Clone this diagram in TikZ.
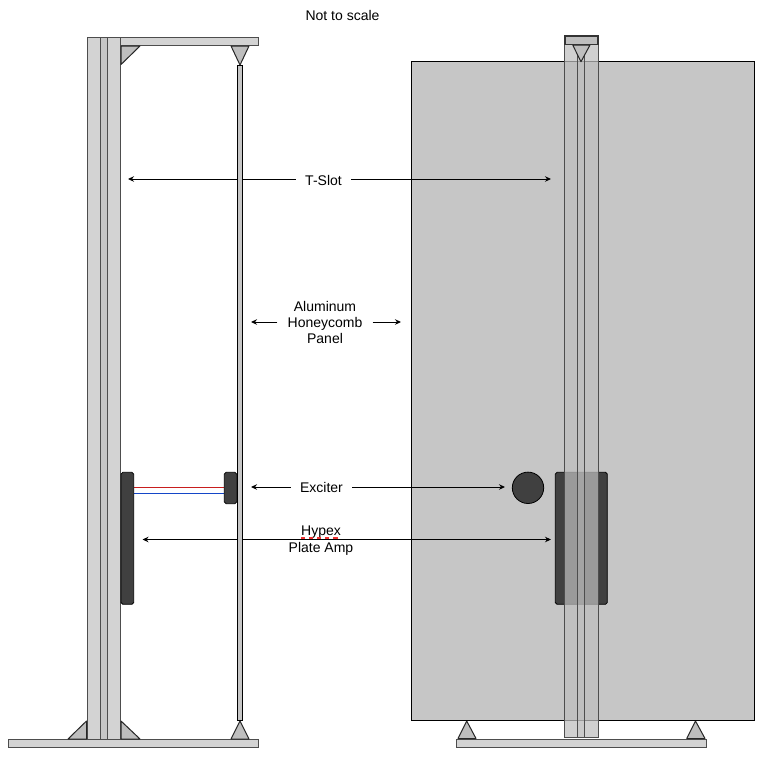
\documentclass[tikz,border=0pt]{standalone}
\usepackage{fontspec}
\setmainfont{Liberation Sans}
\usetikzlibrary{arrows.meta}
\definecolor{barfill}{HTML}{D3D3D3}
\definecolor{stripfill}{HTML}{C6C6C6}
\definecolor{wedgefill}{HTML}{BEBEBE}
\definecolor{barline}{HTML}{4D4D4D}
\definecolor{darkfill}{HTML}{404040}
\definecolor{slotfill}{HTML}{BEBEBE}
\definecolor{squiggle}{RGB}{240,50,50}
\definecolor{wirered}{RGB}{200,30,30}
\definecolor{wireblue}{RGB}{20,70,200}
\tikzset{
  every node/.style={font=\fontsize{14}{16}\selectfont, align=center, text=black},
  bar/.style={fill=barfill, draw=barline, line width=1pt},
  strip/.style={fill=stripfill, draw=barline, line width=0.8pt},
  wedge/.style={fill=wedgefill, draw=black!85, line width=1pt, line join=round},
  panel/.style={fill=stripfill, draw=black, line width=1pt},
  dark/.style={fill=darkfill, draw=black, line width=0.8pt, rounded corners=1.8pt},
  pointer/.style={-{Stealth[length=6pt,width=5.5pt]}, black, line width=0.9pt},
  twoway/.style={{Stealth[length=6pt,width=5.5pt]}-{Stealth[length=6pt,width=5.5pt]}, black, line width=0.9pt},
  glass/.style={fill=slotfill, fill opacity=0.72, draw=barline, line width=0.8pt},
  glassmid/.style={fill=slotfill, fill opacity=0.3, draw=barline, line width=0.8pt},
}
\begin{document}
\begin{tikzpicture}[x=1pt,y=-1pt]
\useasboundingbox (0,0) rectangle (768,756);
\fill[white] (0,0) rectangle (768,756);

% labels and connectors (behind the shapes)
\node (note) at (342.5,15.5) {Not to scale};
\node[inner xsep=9.5pt,inner ysep=2pt] (tslot) at (323.5,180) {T-Slot};
\node[inner xsep=10pt,inner ysep=2pt] (alu) at (325,322.5) {Aluminum\\Honeycomb\\Panel};
\node[inner xsep=9pt,inner ysep=2pt] (exc) at (321.5,487.5) {Exciter};
\node[inner sep=0pt] (hyp) at (321,532) {Hypex};
\node[inner sep=0pt] (plate) at (321,548.5) {Plate Amp};

\coordinate (tslotL) at (128,179);
\coordinate (tslotR) at (551,179);
\coordinate (aluL) at (251,322);
\coordinate (aluR) at (401,322);
\coordinate (excL) at (251,487);
\coordinate (excR) at (505,487);
\coordinate (ampL) at (142.5,539.5);
\coordinate (ampR) at (551,539.5);

\draw[pointer] (tslot.west |- tslotL) -- (tslotL);
\draw[pointer] (alu.west |- aluL) -- (aluL);
\draw[pointer] (alu.east |- aluR) -- (aluR);
\draw[pointer] (exc.west |- excL) -- (excL);
\draw[twoway] (ampL) -- (ampR);

% left view
\draw[bar] (8.3,739.3) rectangle (258.3,747.3);
\draw[bar] (120.7,37.5) rectangle (258.3,45.7);
\draw[bar] (87.3,37.5) rectangle (120.7,739.3);
\draw[strip] (100.3,37.5) rectangle (107.3,739.3);
\draw[wedge] (121,46) -- (140,46) -- (121,64.5) -- cycle;
\draw[wedge] (231,46) -- (249,46) -- (240,65) -- cycle;
\draw[wedge] (86.5,721) -- (86.5,739) -- (68,739) -- cycle;
\draw[wedge] (121,721) -- (121,739) -- (140,739) -- cycle;
\draw[wedge] (240,721) -- (249,739) -- (231,739) -- cycle;
\fill[stripfill] (237.5,65) rectangle (242.5,720);
\draw[black, line width=1pt] (237.5,65) rectangle (242.5,720);
\draw[wirered, line width=0.8pt] (134,487.3) -- (224,487.3);
\draw[wireblue, line width=0.8pt] (134,493.3) -- (224,493.3);
\draw[dark] (121,472.3) rectangle (133.7,604.3);
\draw[dark] (224.3,472.3) rectangle (236.7,503.7);

% right view
\draw[bar] (456.7,739.3) rectangle (706.7,747.3);
\draw[wedge] (466.7,721) -- (476,738.5) -- (458,738.5) -- cycle;
\draw[wedge] (695.5,721) -- (705,738.5) -- (686.7,738.5) -- cycle;
\draw[panel] (411,61.5) rectangle (754.5,720.3);
\draw[dark] (555.3,472.3) rectangle (607.3,604.3);
\fill[darkfill] (528,487.8) circle (15.7pt);
\draw[black, line width=0.8pt] (528,487.8) circle (15.7pt);
\draw[pointer] (tslot.east |- tslotR) -- (tslotR);
\draw[pointer] (exc.east |- excR) -- (excR);
\draw[twoway, -{Stealth[length=6pt,width=5.5pt]}] (411,539.5) -- (ampR);
\draw[glass] (564.4,38) rectangle (598.5,737.3);
\draw[glassmid] (577.3,38) rectangle (584.3,737.3);
\draw[wedge] (572.7,45) -- (590,45) -- (581,61.7) -- cycle;
\draw[fill=slotfill, draw=black!80, line width=1.2pt] (564.9,36) rectangle (598,44.7);

\fill[squiggle] (301,536.5) rectangle (304.5,538.7);
\fill[squiggle] (309,536.5) rectangle (312.5,538.7);
\fill[squiggle] (317,536.5) rectangle (320.5,538.7);
\fill[squiggle] (325,536.5) rectangle (328.5,538.7);
\fill[squiggle] (333,536.5) rectangle (337.5,538.7);
\end{tikzpicture}
\end{document}
